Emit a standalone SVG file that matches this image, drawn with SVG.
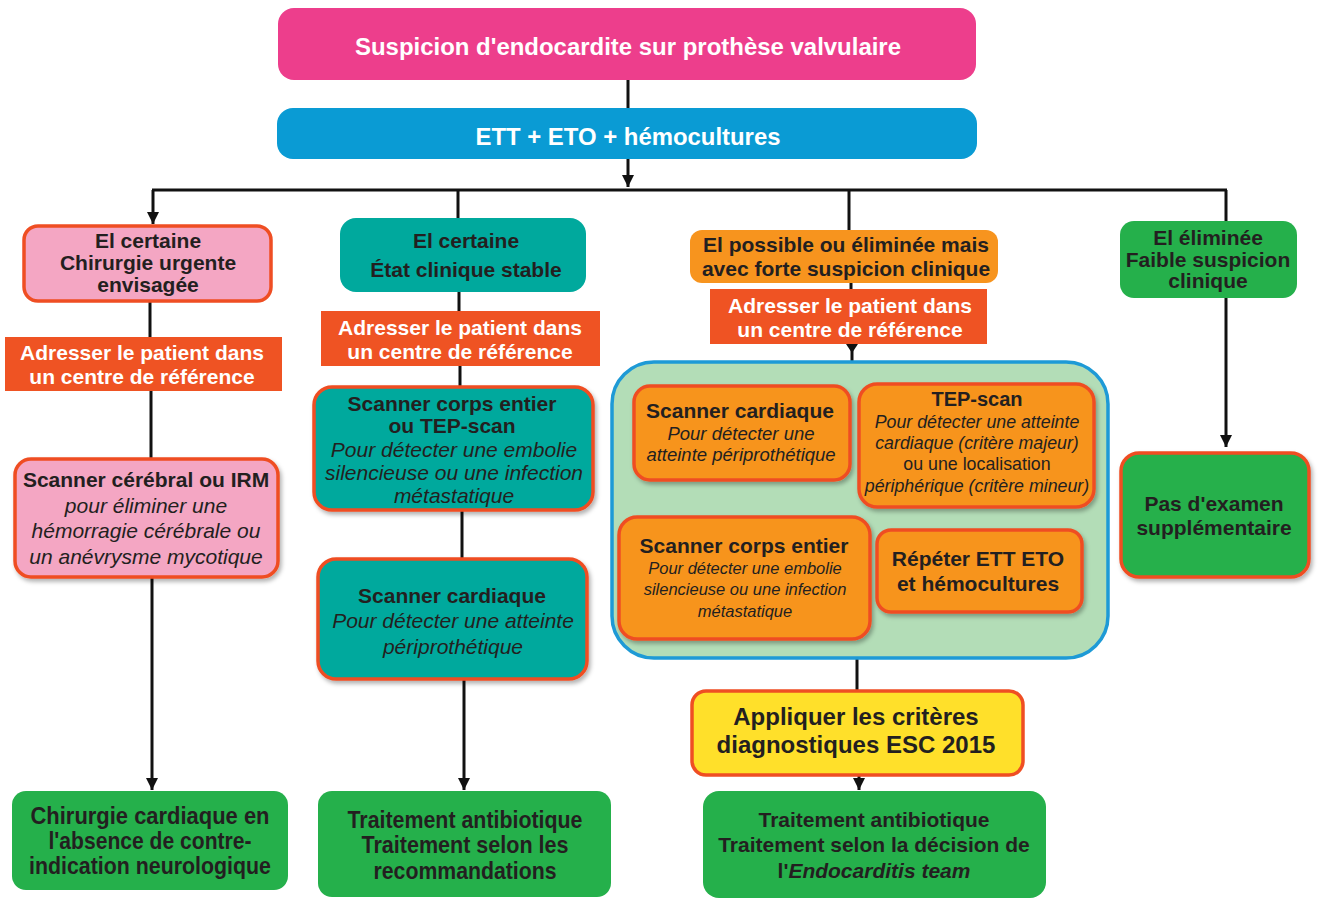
<svg xmlns="http://www.w3.org/2000/svg" width="1320" height="898" viewBox="0 0 1320 898">
<defs>
<style>
text{font-family:"Liberation Sans",Arial,sans-serif;font-weight:bold;fill:#231f20;text-anchor:middle;font-size:21px}
.n{font-size:24px}
.w{fill:#ffffff}
.i{font-style:italic;font-weight:normal}
.r{font-weight:normal}
.s24{font-size:24px}
.s20{font-size:20px}
.s178{font-size:17.8px}
.s185{font-size:18.5px}
.s165{font-size:16.5px}
.bd{stroke:#ef4e23;stroke-width:3.5}
.pink{fill:#f4a6c3}
.teal{fill:#00a99d}
.org{fill:#f7941e}
.grn{fill:#25b04b}
.adr{fill:#ef5323}
.ln{fill:none;stroke:#111;stroke-width:3}
</style>
<marker id="ah" markerUnits="userSpaceOnUse" markerWidth="14" markerHeight="14" refX="12" refY="6" orient="auto">
<path d="M0,0 L12,6 L0,12 z" fill="#111"/>
</marker>
<filter id="sh" x="-10%" y="-10%" width="125%" height="130%">
<feDropShadow dx="2" dy="3" stdDeviation="2" flood-color="#000" flood-opacity="0.3"/>
</filter>
</defs>

<g id="connectors">
<path class="ln" d="M628,80 V108"/>
<path class="ln" d="M628,159 V187" marker-end="url(#ah)"/>
<path class="ln" d="M152,190 H1227"/>
<path class="ln" d="M153,190 V224" marker-end="url(#ah)"/>
<path class="ln" d="M1226,190 V222"/>
<path class="ln" d="M458,190 V218"/>
<path class="ln" d="M849,190 V230"/>
<path class="ln" d="M150,302 V337"/>
<path class="ln" d="M151,391 V458"/>
<path class="ln" d="M152,578 V790" marker-end="url(#ah)"/>
<path class="ln" d="M459,292 V311"/>
<path class="ln" d="M460,366 V386"/>
<path class="ln" d="M462,511 V558"/>
<path class="ln" d="M464,680 V790" marker-end="url(#ah)"/>
<path class="ln" d="M851,283 V289"/>
<path class="ln" d="M852,344 V362"/>
<path d="M846,344 L858,344 L852,353 z" fill="#111"/>
<path class="ln" d="M857,658 V690"/>
<path class="ln" d="M859,776 V790" marker-end="url(#ah)"/>
<path class="ln" d="M1226,298 V447" marker-end="url(#ah)"/>
</g>

<g id="n-top">
<rect x="278" y="8" width="698" height="72" rx="16" fill="#ed3e8c"/>
<text class="n w" x="628" y="55" textLength="546" lengthAdjust="spacingAndGlyphs">Suspicion d'endocardite sur prothèse valvulaire</text>
</g>
<g id="n-ett">
<rect x="277" y="108" width="700" height="51" rx="16" fill="#0a9bd4"/>
<text class="n w" x="628" y="145" textLength="305" lengthAdjust="spacingAndGlyphs">ETT + ETO + hémocultures</text>
</g>

<g id="n-c1">
<rect class="pink bd" x="24" y="226" width="247" height="75" rx="14"/>
<text x="148" y="248">El certaine</text>
<text x="148" y="270">Chirurgie urgente</text>
<text x="148" y="292">envisagée</text>
</g>
<g id="n-c1-adr">
<rect class="adr" x="5" y="337" width="277" height="54"/>
<text class="w" x="142" y="360">Adresser le patient dans</text>
<text class="w" x="142" y="384">un centre de référence</text>
</g>
<g id="n-c1-scan">
<rect class="pink bd" x="15" y="459" width="263" height="118" rx="16" filter="url(#sh)"/>
<text x="146" y="487">Scanner cérébral ou IRM</text>
<text class="i" x="146" y="513">pour éliminer une</text>
<text class="i" x="146" y="538">hémorragie cérébrale ou</text>
<text class="i" x="146" y="564">un anévrysme mycotique</text>
</g>
<g id="n-c1-end">
<rect class="grn" x="12" y="791" width="276" height="99" rx="14"/>
<text class="n" x="150" y="824" textLength="239" lengthAdjust="spacingAndGlyphs">Chirurgie cardiaque en</text>
<text class="n" x="150" y="849" textLength="203" lengthAdjust="spacingAndGlyphs">l'absence de contre-</text>
<text class="n" x="150" y="874" textLength="242" lengthAdjust="spacingAndGlyphs">indication neurologique</text>
</g>

<g id="n-c2">
<rect class="teal" x="340" y="218" width="246" height="74" rx="16"/>
<text x="466" y="248">El certaine</text>
<text x="466" y="277">État clinique stable</text>
</g>
<g id="n-c2-adr">
<rect class="adr" x="321" y="311" width="279" height="55"/>
<text class="w" x="460" y="335">Adresser le patient dans</text>
<text class="w" x="460" y="359">un centre de référence</text>
</g>
<g id="n-c2-scan1">
<rect class="teal bd" x="314" y="387" width="279" height="123" rx="18" filter="url(#sh)"/>
<text x="452" y="411">Scanner corps entier</text>
<text x="452" y="433">ou TEP-scan</text>
<text class="i" x="454" y="457">Pour détecter une embolie</text>
<text class="i" x="454" y="480">silencieuse ou une infection</text>
<text class="i" x="454" y="503">métastatique</text>
</g>
<g id="n-c2-scan2">
<rect class="teal bd" x="318" y="559" width="269" height="120" rx="18" filter="url(#sh)"/>
<text x="452" y="603">Scanner cardiaque</text>
<text class="i" x="453" y="628">Pour détecter une atteinte</text>
<text class="i" x="453" y="654">périprothétique</text>
</g>
<g id="n-c2-end">
<rect class="grn" x="318" y="791" width="293" height="106" rx="14"/>
<text class="n" x="465" y="828" textLength="235" lengthAdjust="spacingAndGlyphs">Traitement antibiotique</text>
<text class="n" x="465" y="853" textLength="207" lengthAdjust="spacingAndGlyphs">Traitement selon les</text>
<text class="n" x="465" y="879" textLength="183" lengthAdjust="spacingAndGlyphs">recommandations</text>
</g>

<g id="n-c3">
<rect class="org" x="690" y="230" width="308" height="53" rx="12"/>
<text x="846" y="252">El possible ou éliminée mais</text>
<text x="846" y="276">avec forte suspicion clinique</text>
</g>
<g id="n-c3-adr">
<rect class="adr" x="710" y="289" width="277" height="55"/>
<text class="w" x="850" y="313">Adresser le patient dans</text>
<text class="w" x="850" y="337">un centre de référence</text>
</g>
<g id="n-c3-group">
<rect x="612" y="362" width="496" height="296" rx="42" fill="#b3ddb7" stroke="#1e9ad6" stroke-width="3.5"/>
</g>
<g id="n-c3-card">
<rect class="org bd" x="634" y="386" width="216" height="94" rx="16" filter="url(#sh)"/>
<text x="740" y="418">Scanner cardiaque</text>
<text class="i s185" x="741" y="440">Pour détecter une</text>
<text class="i s185" x="741" y="461">atteinte périprothétique</text>
</g>
<g id="n-c3-tep">
<rect class="org bd" x="859" y="384" width="235" height="123" rx="18" filter="url(#sh)"/>
<text class="s20" x="977" y="406">TEP-scan</text>
<text class="i s178" x="977" y="428">Pour détecter une atteinte</text>
<text class="i s178" x="977" y="449">cardiaque (critère majeur)</text>
<text class="r s178" x="977" y="470">ou une localisation</text>
<text class="i s178" x="977" y="492">périphérique (critère mineur)</text>
</g>
<g id="n-c3-corps">
<rect class="org bd" x="619" y="517" width="251" height="122" rx="18" filter="url(#sh)"/>
<text x="744" y="553">Scanner corps entier</text>
<text class="i s165" x="745" y="574">Pour détecter une embolie</text>
<text class="i s165" x="745" y="595">silencieuse ou une infection</text>
<text class="i s165" x="745" y="617">métastatique</text>
</g>
<g id="n-c3-rep">
<rect class="org bd" x="877" y="530" width="205" height="82" rx="14" filter="url(#sh)"/>
<text x="978" y="566">Répéter ETT ETO</text>
<text x="978" y="591">et hémocultures</text>
</g>
<g id="n-c3-esc">
<rect x="692" y="691" width="331" height="84" rx="14" fill="#ffe02a" class="bd"/>
<text class="s24" x="856" y="725">Appliquer les critères</text>
<text class="s24" x="856" y="753">diagnostiques ESC 2015</text>
</g>
<g id="n-c3-end">
<rect class="grn" x="703" y="791" width="343" height="107" rx="16"/>
<text x="874" y="827">Traitement antibiotique</text>
<text x="874" y="852">Traitement selon la décision de</text>
<text x="874" y="878">l'<tspan font-style="italic">Endocarditis team</tspan></text>
</g>

<g id="n-c4">
<rect class="grn" x="1120" y="221" width="177" height="77" rx="14"/>
<text x="1208" y="245">El éliminée</text>
<text x="1208" y="267">Faible suspicion</text>
<text x="1208" y="288">clinique</text>
</g>
<g id="n-c4-end">
<rect class="grn bd" x="1121" y="453" width="188" height="124" rx="18" filter="url(#sh)"/>
<text x="1214" y="511">Pas d'examen</text>
<text x="1214" y="535">supplémentaire</text>
</g>
</svg>
